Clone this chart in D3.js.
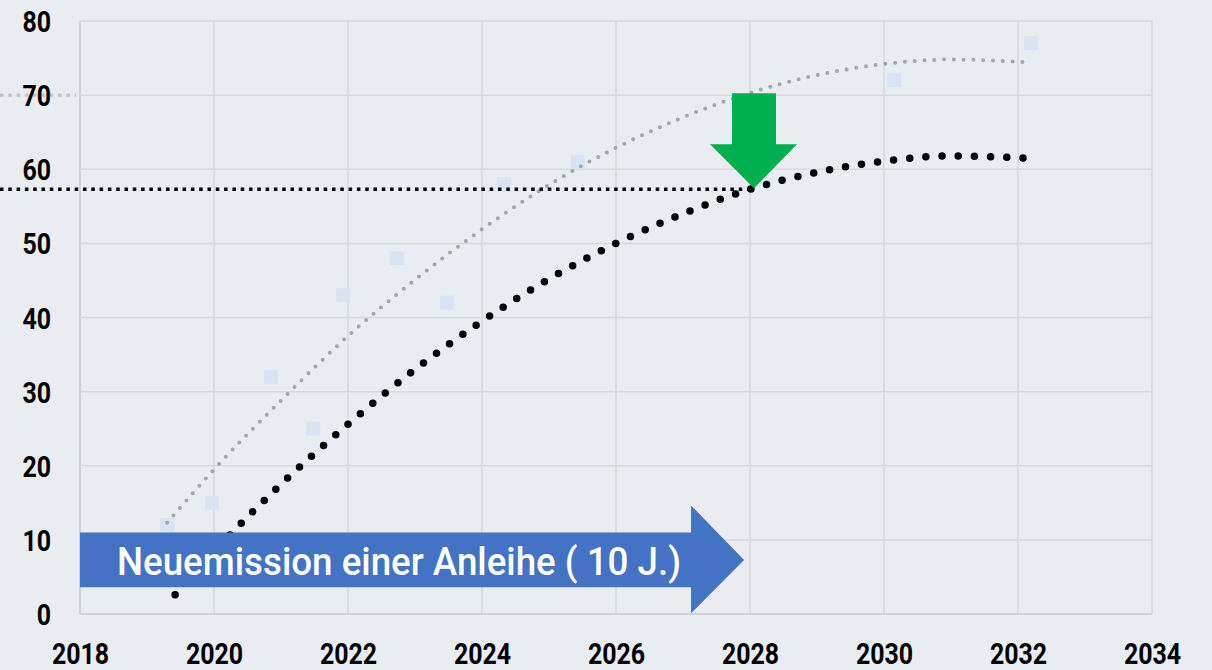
<!DOCTYPE html>
<html>
<head>
<meta charset="utf-8">
<script src="https://cdn.jsdelivr.net/npm/d3@7"></script>
<style>
  body { margin: 0; background: #e9ecf1; }
  svg { display: block; }
</style>
</head>
<body>
<div id="chart"></div>
<script>
// scatter values (year, value)
var pointYears  = [2019.3, 2019.97, 2020.85, 2021.48, 2021.93, 2022.73, 2023.48, 2024.33, 2025.43, 2030.15, 2032.19];
var pointValues = [12, 15, 32, 25, 43, 48, 42, 58, 61, 72, 77];

// grey trendline
var greyYears  = [2019.3, 2020, 2021, 2022, 2023, 2024, 2025, 2026, 2027, 2028, 2029, 2030, 2031, 2032.2];
var greyValues = [12.3, 19.5, 28.8, 37.5, 45.1, 51.9, 57.9, 62.9, 67, 70.3, 72.7, 74.2, 74.8, 74.4];

// black trendline
var blackYears  = [2019.42, 2020, 2021, 2022, 2023, 2024, 2025, 2026, 2027, 2028, 2029, 2030, 2031, 2032.1];
var blackValues = [2.6, 8.4, 17.5, 25.6, 33, 39.5, 45.2, 50, 54, 57.3, 59.6, 61.1, 61.8, 61.5];

var xTicks = [2018, 2020, 2022, 2024, 2026, 2028, 2030, 2032, 2034];
var yTicks = [0, 10, 20, 30, 40, 50, 60, 70, 80];

var markYear = 2028.06, markValue = 57.3;  // green arrow / black reference line
var greyRef = 70;                          // grey reference stub
var arrowText = "Neuemission einer Anleihe ( 10 J.)";
var arrowFrom = 2018, arrowTo = 2027.12, arrowLow = 3.6, arrowHigh = 11;

var W = 1212, H = 670;
var margin = { top: 21, right: 60, bottom: 56, left: 80 };

var svg = d3.select("#chart").append("svg")
    .attr("width", W)
    .attr("height", H);

svg.append("rect").attr("width", W).attr("height", H).attr("fill", "#e9ecf1");

var x = d3.scaleLinear().domain([2018, 2034]).range([margin.left, W - margin.right]);
var y = d3.scaleLinear().domain([0, 80]).range([H - margin.bottom, margin.top]);

var labelFont = "Roboto, 'Noto Sans', sans-serif";

// gridlines
var grid = svg.append("g").attr("class", "grid");
grid.selectAll("line.v")
    .data(xTicks)
    .enter().append("line")
    .attr("class", "v")
    .attr("x1", function(d) { return x(d); })
    .attr("x2", function(d) { return x(d); })
    .attr("y1", y(0)).attr("y2", y(80))
    .attr("stroke", function(d) { return d === 2018 ? "#cbcbcb" : "#d9d9d9"; })
    .attr("stroke-width", 1.5);
grid.selectAll("line.h")
    .data(yTicks)
    .enter().append("line")
    .attr("class", "h")
    .attr("x1", x(2018)).attr("x2", x(2034))
    .attr("y1", function(d) { return y(d); })
    .attr("y2", function(d) { return y(d); })
    .attr("stroke", function(d) { return d === 0 ? "#cbcbcb" : "#d9d9d9"; })
    .attr("stroke-width", 1.5);

// grey reference stub left of the axis (behind label)
svg.append("line")
    .attr("x1", 0).attr("x2", x(2018) - 4)
    .attr("y1", y(greyRef)).attr("y2", y(greyRef))
    .attr("stroke", "#c4c4c4")
    .attr("stroke-width", 3.3)
    .attr("stroke-dasharray", "3.5,4.8");

// axis labels (condensed look: squeeze each label a bit)
var xAxis = d3.axisBottom(x).tickValues(xTicks).tickFormat(d3.format("d")).tickSize(0).tickPadding(0);
var yAxis = d3.axisLeft(y).tickValues(yTicks).tickSize(0).tickPadding(0);

function styleLabels(sel) {
    sel.attr("dy", "0.35em")
        .attr("font-family", labelFont)
        .attr("font-weight", "bold")
        .attr("font-size", 30)
        .attr("fill", "#000")
        .attr("lengthAdjust", "spacingAndGlyphs")
        .attr("textLength", function() { return this.textContent.length * 14.3; });
}

var gx = svg.append("g")
    .attr("transform", "translate(0," + (H - 17) + ")")
    .call(xAxis);
gx.select(".domain").remove();
styleLabels(gx.selectAll("text"));

var gy = svg.append("g")
    .attr("transform", "translate(51,0)")
    .call(yAxis);
gy.select(".domain").remove();
styleLabels(gy.selectAll("text"));

// scatter squares
var pts = pointYears.map(function(d, i) { return { x: d, y: pointValues[i] }; });
svg.selectAll("rect.pt")
    .data(pts)
    .enter().append("rect")
    .attr("class", "pt")
    .attr("x", function(d) { return x(d.x) - 7; })
    .attr("y", function(d) { return y(d.y) - 7; })
    .attr("width", 14).attr("height", 14)
    .attr("fill", "#dae3f3");

var line = d3.line()
    .curve(d3.curveMonotoneX)
    .x(function(d) { return x(d.x); })
    .y(function(d) { return y(d.y); });

var greyData = greyYears.map(function(d, i) { return { x: d, y: greyValues[i] }; });
var blackData = blackYears.map(function(d, i) { return { x: d, y: blackValues[i] }; });

svg.append("path")
    .datum(greyData)
    .attr("d", line)
    .attr("fill", "none")
    .attr("stroke", "#a6a6a6")
    .attr("stroke-width", 4)
    .attr("stroke-linecap", "round")
    .attr("stroke-dasharray", "0,9.8");

svg.append("path")
    .datum(blackData)
    .attr("d", line)
    .attr("fill", "none")
    .attr("stroke", "#000")
    .attr("stroke-width", 7.5)
    .attr("stroke-linecap", "round")
    .attr("stroke-dasharray", "0,16.2");

// black reference line to the marked point
svg.append("line")
    .attr("x1", 0).attr("x2", x(markYear))
    .attr("y1", y(markValue)).attr("y2", y(markValue))
    .attr("stroke", "#000")
    .attr("stroke-width", 3.3)
    .attr("stroke-dasharray", "3.5,4.8");

// green down arrow
var tipX = x(markYear), tipY = y(markValue) - 1;
var green = [
    [tipX - 22, tipY - 95], [tipX + 22, tipY - 95], [tipX + 22, tipY - 44],
    [tipX + 43, tipY - 44], [tipX, tipY], [tipX - 44, tipY - 44], [tipX - 22, tipY - 44]
];
svg.append("polygon")
    .attr("points", green.map(function(p) { return p.join(","); }).join(" "))
    .attr("fill", "#00b050");

// blue arrow with caption
var bx0 = x(arrowFrom), bx1 = x(arrowTo), by0 = y(arrowHigh), by1 = y(arrowLow);
var headTip = bx1 + 53, midY = (by0 + by1) / 2;
var blue = [
    [bx0, by0], [bx1, by0], [bx1, by0 - 27], [headTip, midY],
    [bx1, by1 + 26], [bx1, by1], [bx0, by1]
];
svg.append("polygon")
    .attr("points", blue.map(function(p) { return p.join(","); }).join(" "))
    .attr("fill", "#4472c4");

svg.append("text")
    .attr("x", 117)
    .attr("y", 575)
    .attr("font-family", "Roboto, 'Noto Sans', sans-serif")
    .attr("font-weight", 500)
    .attr("font-size", 38)
    .attr("fill", "#fff")
    .attr("textLength", 564)
    .attr("lengthAdjust", "spacingAndGlyphs")
    .text(arrowText);
</script>
</body>
</html>
